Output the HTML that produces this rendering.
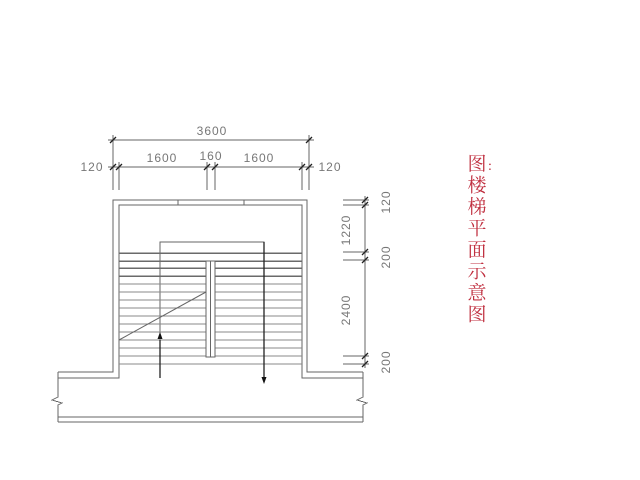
<!DOCTYPE html>
<html><head><meta charset="utf-8"><style>body{margin:0;background:#fff}svg{display:block}</style></head><body>
<svg width="640" height="480" viewBox="0 0 640 480" xmlns="http://www.w3.org/2000/svg">
<g stroke="#666" stroke-width="1" fill="none" shape-rendering="crispEdges">
<polyline points="58,372 113,372 113,200 307,200 307,372 363,372"/>
<polyline points="58,378 119,378 119,205 302,205 302,378 363,378"/>
<rect x="178" y="200" width="66" height="5"/>
<line x1="58" y1="417" x2="363" y2="417"/>
<line x1="58" y1="422" x2="363" y2="422"/>
<polyline points="58,372 58,397 52,400 62,403 58,405 58,422"/>
<polyline points="363,372 363,397 357,400 367,403 363,405 363,422"/>
<polyline points="160,378 160,242 264,242 264,382"/>
<g stroke="#6a6a6a" stroke-width="1.5">
<line x1="119" y1="253" x2="302" y2="253"/>
<line x1="119" y1="261" x2="302" y2="261"/>
<line x1="119" y1="268" x2="302" y2="268"/>
<line x1="119" y1="276" x2="302" y2="276"/>
</g>
<g stroke="#888">
<line x1="119" y1="284" x2="302" y2="284"/>
<line x1="119" y1="292" x2="302" y2="292"/>
<line x1="119" y1="300" x2="302" y2="300"/>
<line x1="119" y1="308" x2="302" y2="308"/>
<line x1="119" y1="316" x2="302" y2="316"/>
<line x1="119" y1="324" x2="302" y2="324"/>
<line x1="119" y1="332" x2="302" y2="332"/>
<line x1="119" y1="340" x2="302" y2="340"/>
<line x1="119" y1="348" x2="302" y2="348"/>
<line x1="119" y1="356" x2="302" y2="356"/>
<line x1="119" y1="364" x2="302" y2="364"/>
</g>
<rect x="206" y="261" width="9" height="96" fill="#fff"/>
<line x1="210.5" y1="261" x2="210.5" y2="357"/>
<line x1="119" y1="340" x2="206" y2="292" shape-rendering="auto"/>
<line x1="108" y1="140" x2="314" y2="140"/>
<line x1="108" y1="167" x2="314" y2="167"/>
<line x1="113" y1="135" x2="113" y2="190"/>
<line x1="309" y1="135" x2="309" y2="190"/>
<line x1="119" y1="162" x2="119" y2="190"/>
<line x1="207" y1="162" x2="207" y2="190"/>
<line x1="215" y1="162" x2="215" y2="190"/>
<line x1="302" y1="162" x2="302" y2="190"/>
<line x1="365" y1="196" x2="365" y2="368"/>
<line x1="343" y1="200" x2="369" y2="200"/>
<line x1="343" y1="205" x2="369" y2="205"/>
<line x1="343" y1="252" x2="369" y2="252"/>
<line x1="343" y1="260" x2="369" y2="260"/>
<line x1="343" y1="356" x2="369" y2="356"/>
<line x1="343" y1="364" x2="369" y2="364"/>
</g>
<g stroke="#222" stroke-width="1.3">
<path d="M110,143l6,-6M306,143l6,-6M110,170l6,-6M116,170l6,-6M204,170l6,-6M212,170l6,-6M299,170l6,-6M306,170l6,-6"/>
<path d="M362,203l6,-6M362,208l6,-6M362,255l6,-6M362,263l6,-6M362,359l6,-6M362,367l6,-6"/>
<line x1="160" y1="340" x2="160" y2="378"/>
<line x1="264" y1="242" x2="264" y2="380"/>
</g>
<path d="M160,332l-2.5,7h5z" fill="#111"/>
<path d="M264,384l-2.5,-7h5z" fill="#111"/>
<g font-family="Liberation Sans, sans-serif" font-size="12" fill="#777" text-anchor="middle" letter-spacing="1">
<text x="212" y="135">3600</text>
<text x="162" y="162">1600</text>
<text x="211" y="160">160</text>
<text x="259" y="162">1600</text>
<text x="92" y="171">120</text>
<text x="330" y="171">120</text>
<text transform="translate(390,202) rotate(-90)">120</text>
<text transform="translate(350,230) rotate(-90)">1220</text>
<text transform="translate(390,257) rotate(-90)">200</text>
<text transform="translate(350,310) rotate(-90)">2400</text>
<text transform="translate(390,362) rotate(-90)">200</text>
</g>
<g font-family="Liberation Serif, 'Noto Serif CJK SC', serif" font-size="19" fill="#c03040" text-anchor="middle">
<text x="477" y="170">图</text><text x="490" y="170" font-size="14">:</text>
<text x="477" y="191.5">楼</text>
<text x="477" y="213">梯</text>
<text x="477" y="234.5">平</text>
<text x="477" y="256">面</text>
<text x="477" y="277.5">示</text>
<text x="477" y="299">意</text>
<text x="477" y="320.5">图</text>
</g>
</svg>
</body></html>
